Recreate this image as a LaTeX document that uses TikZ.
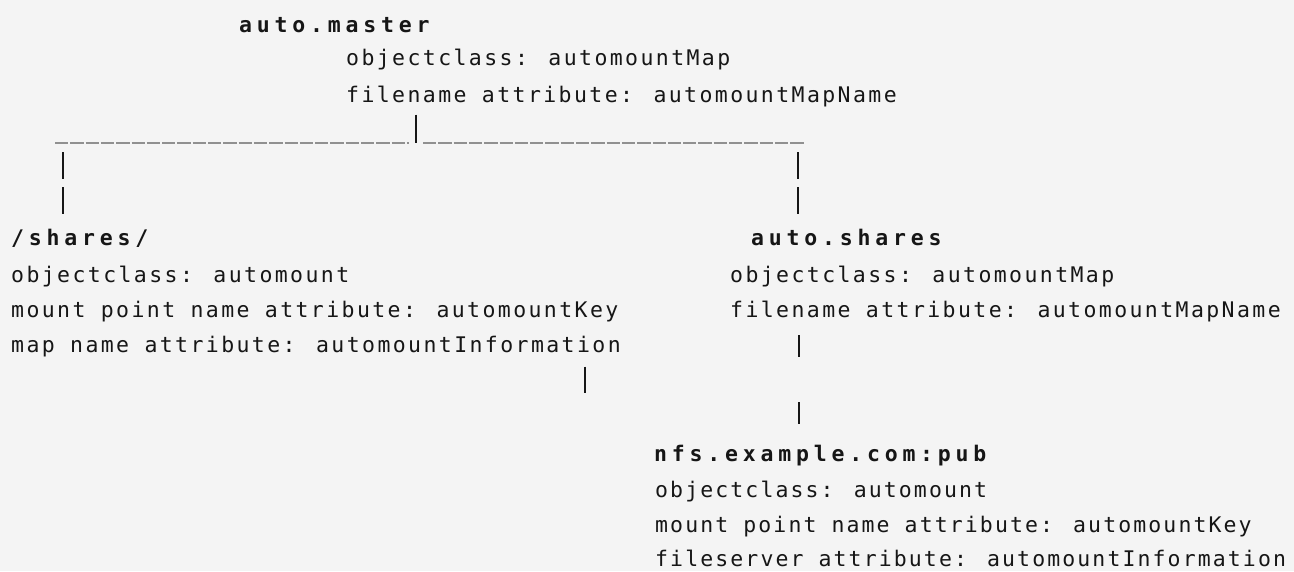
\documentclass[tikz,border=0pt]{standalone}
\usepackage{fontspec}
\usepackage{tikz}
\newfontfamily\plainmono[LetterSpace=11.2]{DejaVu Sans Mono}
\newfontfamily\tightmono[LetterSpace=9.8]{DejaVu Sans Mono}
\newfontfamily\boldmono[LetterSpace=22.3]{DejaVu Sans Mono Bold}
\newcommand{\txtsize}{\fontsize{21.5pt}{26pt}\selectfont}
\definecolor{paper}{HTML}{F4F4F4}
\definecolor{ink}{HTML}{161616}
\definecolor{rulegray}{HTML}{909090}
\tikzset{
  entry/.style={anchor=base west, inner sep=0pt, text=ink, font=\plainmono\txtsize},
  tightentry/.style={entry, font=\tightmono\txtsize},
  heading/.style={entry, font=\boldmono\txtsize},
  vbar/.style={draw=ink, line width=2pt},
  hline/.style={draw=rulegray, line width=1.6pt, dash pattern=on 13.3pt off 2pt}
}

\begin{document}
\begin{tikzpicture}[x=1pt, y=1pt]
    % paper
    \fill[paper] (0,0) rectangle (1294,-571);
    \useasboundingbox (0,0) rectangle (1294,-571);
    % auto.master
    \node[heading] (master) at (239,-32) {auto.master};
    \node[entry] (masterclass) at (346,-65) {objectclass: automountMap};
    \node[entry] (masterfile) at (346,-102) {filename attribute: automountMapName};
    % /shares/
    \node[heading] (shares) at (11,-245) {/shares/};
    \node[entry] (sharesclass) at (11,-282) {objectclass: automount};
    \node[entry] (shareskey) at (11,-317) {mount point name attribute: automountKey};
    \node[entry] (sharesinfo) at (11,-352) {map name attribute: automountInformation};
    % auto.shares
    \node[heading] (autoshares) at (751,-245) {auto.shares};
    \node[entry] (autosharesclass) at (730,-282) {objectclass: automountMap};
    \node[entry] (autosharesfile) at (730,-317) {filename attribute: automountMapName};
    % nfs.example.com:pub
    \node[heading] (nfs) at (654,-461) {nfs.example.com:pub};
    \node[tightentry] (nfsclass) at (655,-497) {objectclass: automount};
    \node[tightentry] (nfskey) at (655,-532) {mount point name attribute: automountKey};
    \node[tightentry] (nfsserver) at (655,-566) {fileserver attribute: automountInformation};
    % split line below auto.master
    \coordinate (split) at (416,-143);
    \coordinate (leftend) at (55,-143);
    \coordinate (rightend) at (805,-143);
    \draw[hline] (leftend) -- ([xshift=-7pt]split);
    \draw[hline] ([xshift=7pt]split) -- (rightend);
    \draw[vbar, shorten <=8pt] (split |- masterfile.south) -- (split);
    % drops to /shares/ and auto.shares
    \coordinate (leftdrop) at (63,-152);
    \coordinate (rightdrop) at (798,-152);
    \draw[vbar, dash pattern=on 27pt off 8pt, shorten >=13pt] (leftdrop) -- (leftdrop |- shares.north);
    \draw[vbar, dash pattern=on 27pt off 8pt, shorten >=13pt] (rightdrop) -- (rightdrop |- autoshares.north);
    % auto.shares down to nfs.example.com:pub
    \coordinate (mapdrop) at (799,-335);
    \draw[vbar, dash pattern=on 22pt off 45pt, shorten >=14pt] (mapdrop) -- (mapdrop |- nfs.north);
    % loose end below /shares/
    \coordinate (infoend) at (585,-393);
    \draw[vbar, shorten <=10pt] (infoend |- sharesinfo.south) -- (infoend);
\end{tikzpicture}
\end{document}
